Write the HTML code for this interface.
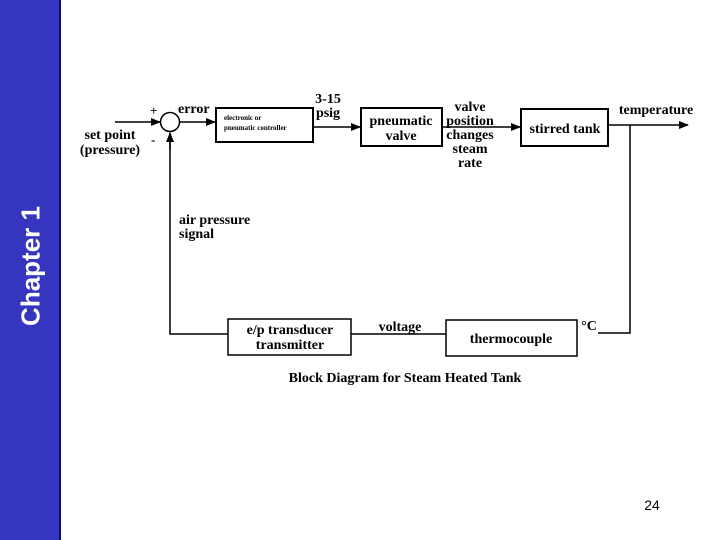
<!DOCTYPE html>
<html><head><style>
body{margin:0;width:720px;height:540px;background:#fff;position:relative;overflow:hidden}
#side{position:absolute;left:0;top:0;width:59px;height:540px;background:#3535c0;border-right:2px solid #101050}
#ch{position:absolute;left:31px;top:266px;transform:translate(-50%,-50%) rotate(-90deg);color:#fff;font:bold 26px "Liberation Sans",sans-serif;white-space:nowrap}
svg text{font-family:"Liberation Serif",serif;font-weight:bold;fill:#000}
</style></head><body>
<div id="side"></div><div id="ch">Chapter 1</div>
<svg width="720" height="540" style="position:absolute;left:0;top:0">
<defs><marker id="a" markerWidth="10" markerHeight="8" refX="9" refY="4" orient="auto" markerUnits="userSpaceOnUse"><path d="M0,0L10,4L0,8z"/></marker></defs>
<g stroke="#000" stroke-width="1.5" fill="none">
<line x1="115" y1="122" x2="160" y2="122" marker-end="url(#a)"/>
<circle cx="170" cy="122" r="9.5"/>
<line x1="180" y1="122" x2="215" y2="122" marker-end="url(#a)"/>
<rect x="216" y="108" width="97" height="34" stroke-width="2"/>
<line x1="313" y1="127" x2="360" y2="127" marker-end="url(#a)"/>
<rect x="361" y="108" width="81" height="38" stroke-width="2"/>
<line x1="442" y1="127" x2="520" y2="127" marker-end="url(#a)"/>
<rect x="521" y="109" width="87" height="37" stroke-width="2"/>
<line x1="608" y1="125" x2="688" y2="125" marker-end="url(#a)"/>
<polyline points="630,125 630,333 598,333"/>
<rect x="446" y="320" width="131" height="36" stroke-width="1.5"/>
<line x1="446" y1="334" x2="351" y2="334"/>
<rect x="228" y="319" width="123" height="36" stroke-width="1.5"/>
<polyline points="228,334 170,334 170,133"/>
<line x1="170" y1="150" x2="170" y2="133" marker-end="url(#a)"/>
</g>
<text x="178" y="113" font-size="14">error</text>
<text x="150" y="115" font-size="13">+</text>
<text x="151" y="144" font-size="13">-</text>
<text x="110" y="139" font-size="14" text-anchor="middle">set point</text>
<text x="110" y="154" font-size="14" text-anchor="middle">(pressure)</text>
<text x="224" y="120" font-size="7">electronic or</text>
<text x="224" y="130" font-size="7">pneumatic controller</text>
<text x="328" y="103" font-size="14" text-anchor="middle">3-15</text>
<text x="328" y="117" font-size="14" text-anchor="middle">psig</text>
<text x="401" y="125" font-size="14" text-anchor="middle">pneumatic</text>
<text x="401" y="140" font-size="14" text-anchor="middle">valve</text>
<text x="470" y="111" font-size="14" text-anchor="middle">valve</text>
<text x="470" y="125" font-size="14" text-anchor="middle">position</text>
<text x="470" y="139" font-size="14" text-anchor="middle">changes</text>
<text x="470" y="153" font-size="14" text-anchor="middle">steam</text>
<text x="470" y="167" font-size="14" text-anchor="middle">rate</text>
<text x="565" y="133" font-size="14" text-anchor="middle">stirred tank</text>
<text x="656" y="114" font-size="14" text-anchor="middle">temperature</text>
<text x="179" y="224" font-size="14">air pressure</text>
<text x="179" y="238" font-size="14">signal</text>
<text x="400" y="331" font-size="14" text-anchor="middle">voltage</text>
<text x="589" y="330" font-size="14" text-anchor="middle">°C</text>
<text x="290" y="334" font-size="14" text-anchor="middle">e/p transducer</text>
<text x="290" y="349" font-size="14" text-anchor="middle">transmitter</text>
<text x="511" y="343" font-size="14" text-anchor="middle">thermocouple</text>
<text x="405" y="382" font-size="14" text-anchor="middle">Block Diagram for Steam Heated Tank</text>
<text x="652" y="510" font-size="14" font-weight="normal" text-anchor="middle" style="font-family:'Liberation Sans',sans-serif;font-weight:normal">24</text>
</svg>
</body></html>
